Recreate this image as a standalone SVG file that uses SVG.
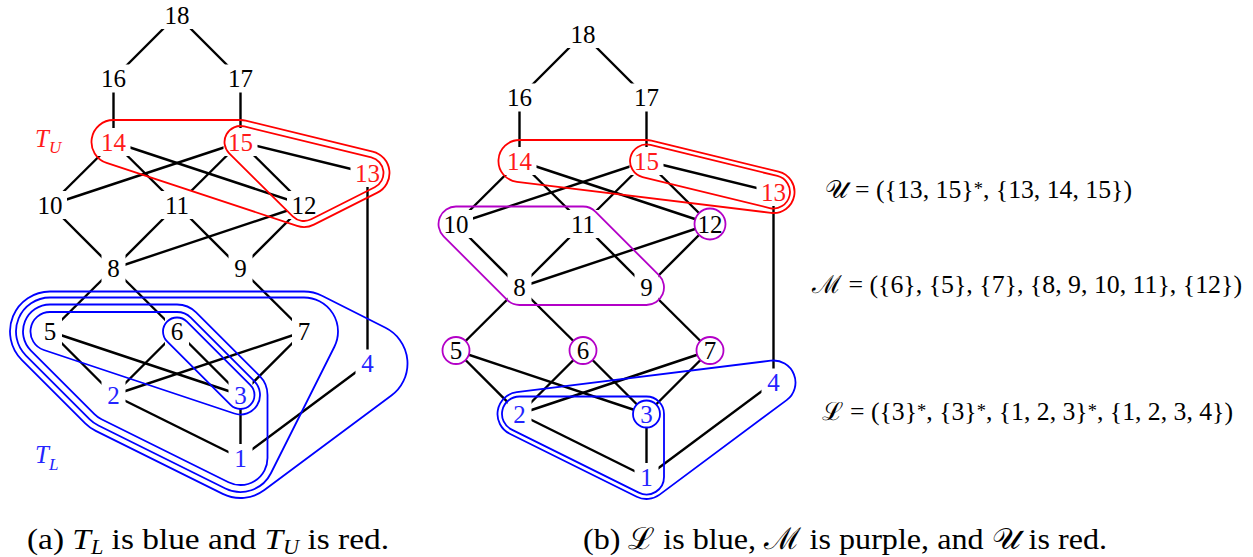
<svg xmlns="http://www.w3.org/2000/svg" width="1253" height="557" viewBox="0 0 1253 557">
<style>
.e{stroke:#000;stroke-width:2.4;fill:none}
.bg{fill:#fff}
.t{font-size:25px;text-anchor:middle;fill:#000}
.r{fill:#ff1a1a}
.b{fill:#2424ff}
.hr{fill:none;stroke:#ff0000;stroke-width:1.8}
.hb{fill:none;stroke:#0000ff;stroke-width:1.8}
.hm{fill:none;stroke:#b300c7;stroke-width:1.8}
.cm{fill:#fff;stroke:#b300c7;stroke-width:1.8}
.cb{fill:#fff;stroke:#0000ff;stroke-width:1.8}
.lab{font-size:25px}
.cap{font-size:30px}
.it{font-style:italic}
</style>
<g id="connectors">
<g id="edges-a">
<line class="e" x1="177" y1="15" x2="113.5" y2="78.5"/>
<line class="e" x1="177" y1="15" x2="240.5" y2="78.5"/>
<line class="e" x1="113.5" y1="78.5" x2="113.5" y2="142"/>
<line class="e" x1="240.5" y1="78.5" x2="240.5" y2="142"/>
<line class="e" x1="113.5" y1="142" x2="50" y2="205"/>
<line class="e" x1="113.5" y1="142" x2="177" y2="205"/>
<line class="e" x1="113.5" y1="142" x2="304" y2="205"/>
<line class="e" x1="240.5" y1="142" x2="50" y2="205"/>
<line class="e" x1="240.5" y1="142" x2="177" y2="205"/>
<line class="e" x1="240.5" y1="142" x2="304" y2="205"/>
<line class="e" x1="240.5" y1="142" x2="367.5" y2="173"/>
<line class="e" x1="367.5" y1="173" x2="367.5" y2="363.5"/>
<line class="e" x1="50" y1="205" x2="113.5" y2="268.5"/>
<line class="e" x1="177" y1="205" x2="113.5" y2="268.5"/>
<line class="e" x1="177" y1="205" x2="240.5" y2="268.5"/>
<line class="e" x1="304" y1="205" x2="113.5" y2="268.5"/>
<line class="e" x1="304" y1="205" x2="240.5" y2="268.5"/>
<line class="e" x1="113.5" y1="268.5" x2="50" y2="331.5"/>
<line class="e" x1="113.5" y1="268.5" x2="177" y2="331.5"/>
<line class="e" x1="240.5" y1="268.5" x2="304" y2="331.5"/>
<line class="e" x1="50" y1="331.5" x2="113.5" y2="395"/>
<line class="e" x1="50" y1="331.5" x2="240.5" y2="395"/>
<line class="e" x1="177" y1="331.5" x2="113.5" y2="395"/>
<line class="e" x1="177" y1="331.5" x2="240.5" y2="395"/>
<line class="e" x1="304" y1="331.5" x2="113.5" y2="395"/>
<line class="e" x1="304" y1="331.5" x2="240.5" y2="395"/>
<line class="e" x1="367.5" y1="363.5" x2="240.5" y2="458"/>
<line class="e" x1="113.5" y1="395" x2="240.5" y2="458"/>
<line class="e" x1="240.5" y1="395" x2="240.5" y2="458"/>
</g>
<g id="edges-b" transform="translate(406,19)">
<line class="e" x1="177" y1="15" x2="113.5" y2="78.5"/>
<line class="e" x1="177" y1="15" x2="240.5" y2="78.5"/>
<line class="e" x1="113.5" y1="78.5" x2="113.5" y2="142"/>
<line class="e" x1="240.5" y1="78.5" x2="240.5" y2="142"/>
<line class="e" x1="113.5" y1="142" x2="50" y2="205"/>
<line class="e" x1="113.5" y1="142" x2="177" y2="205"/>
<line class="e" x1="113.5" y1="142" x2="304" y2="205"/>
<line class="e" x1="240.5" y1="142" x2="50" y2="205"/>
<line class="e" x1="240.5" y1="142" x2="177" y2="205"/>
<line class="e" x1="240.5" y1="142" x2="304" y2="205"/>
<line class="e" x1="240.5" y1="142" x2="367.5" y2="173"/>
<line class="e" x1="367.5" y1="173" x2="367.5" y2="363.5"/>
<line class="e" x1="50" y1="205" x2="113.5" y2="268.5"/>
<line class="e" x1="177" y1="205" x2="113.5" y2="268.5"/>
<line class="e" x1="177" y1="205" x2="240.5" y2="268.5"/>
<line class="e" x1="304" y1="205" x2="113.5" y2="268.5"/>
<line class="e" x1="304" y1="205" x2="240.5" y2="268.5"/>
<line class="e" x1="113.5" y1="268.5" x2="50" y2="331.5"/>
<line class="e" x1="113.5" y1="268.5" x2="177" y2="331.5"/>
<line class="e" x1="240.5" y1="268.5" x2="304" y2="331.5"/>
<line class="e" x1="50" y1="331.5" x2="113.5" y2="395"/>
<line class="e" x1="50" y1="331.5" x2="240.5" y2="395"/>
<line class="e" x1="177" y1="331.5" x2="113.5" y2="395"/>
<line class="e" x1="177" y1="331.5" x2="240.5" y2="395"/>
<line class="e" x1="304" y1="331.5" x2="113.5" y2="395"/>
<line class="e" x1="304" y1="331.5" x2="240.5" y2="395"/>
<line class="e" x1="367.5" y1="363.5" x2="240.5" y2="458"/>
<line class="e" x1="113.5" y1="395" x2="240.5" y2="458"/>
<line class="e" x1="240.5" y1="395" x2="240.5" y2="458"/>
</g>
</g>
<g id="nodes-a" font-family="'Liberation Serif', 'Times New Roman', 'DejaVu Serif', serif">
<g id="a-n18"><rect class="bg" x="160" y="1" width="34" height="28"/><text class="t" x="177" y="23.5">18</text></g>
<g id="a-n16"><rect class="bg" x="96.5" y="64.5" width="34" height="28"/><text class="t" x="113.5" y="87">16</text></g>
<g id="a-n17"><rect class="bg" x="223.5" y="64.5" width="34" height="28"/><text class="t" x="240.5" y="87">17</text></g>
<g id="a-n14"><rect class="bg" x="96.5" y="128" width="34" height="28"/><text class="t r" x="113.5" y="150.5">14</text></g>
<g id="a-n15"><rect class="bg" x="223.5" y="128" width="34" height="28"/><text class="t r" x="240.5" y="150.5">15</text></g>
<g id="a-n13"><rect class="bg" x="350.5" y="159" width="34" height="28"/><text class="t r" x="367.5" y="181.5">13</text></g>
<g id="a-n10"><rect class="bg" x="33" y="191" width="34" height="28"/><text class="t" x="50" y="213.5">10</text></g>
<g id="a-n11"><rect class="bg" x="160" y="191" width="34" height="28"/><text class="t" x="177" y="213.5">11</text></g>
<g id="a-n12"><rect class="bg" x="287" y="191" width="34" height="28"/><text class="t" x="304" y="213.5">12</text></g>
<g id="a-n8"><rect class="bg" x="101.5" y="254.5" width="24" height="28"/><text class="t" x="113.5" y="277">8</text></g>
<g id="a-n9"><rect class="bg" x="228.5" y="254.5" width="24" height="28"/><text class="t" x="240.5" y="277">9</text></g>
<g id="a-n5"><rect class="bg" x="38" y="317.5" width="24" height="28"/><text class="t" x="50" y="340">5</text></g>
<g id="a-n6"><rect class="bg" x="165" y="317.5" width="24" height="28"/><text class="t" x="177" y="340">6</text></g>
<g id="a-n7"><rect class="bg" x="292" y="317.5" width="24" height="28"/><text class="t" x="304" y="340">7</text></g>
<g id="a-n4"><rect class="bg" x="355.5" y="349.5" width="24" height="28"/><text class="t b" x="367.5" y="372">4</text></g>
<g id="a-n2"><rect class="bg" x="101.5" y="381" width="24" height="28"/><text class="t b" x="113.5" y="403.5">2</text></g>
<g id="a-n3"><rect class="bg" x="228.5" y="381" width="24" height="28"/><text class="t b" x="240.5" y="403.5">3</text></g>
<g id="a-n1"><rect class="bg" x="228.5" y="444" width="24" height="28"/><text class="t b" x="240.5" y="466.5">1</text></g>
</g>
<g id="nodes-b" transform="translate(406,19)" font-family="'Liberation Serif', 'Times New Roman', 'DejaVu Serif', serif">
<g id="b-n18"><rect class="bg" x="160" y="1" width="34" height="28"/><text class="t" x="177" y="23.5">18</text></g>
<g id="b-n16"><rect class="bg" x="96.5" y="64.5" width="34" height="28"/><text class="t" x="113.5" y="87">16</text></g>
<g id="b-n17"><rect class="bg" x="223.5" y="64.5" width="34" height="28"/><text class="t" x="240.5" y="87">17</text></g>
<g id="b-n14"><rect class="bg" x="96.5" y="128" width="34" height="28"/><text class="t r" x="113.5" y="150.5">14</text></g>
<g id="b-n15"><rect class="bg" x="223.5" y="128" width="34" height="28"/><text class="t r" x="240.5" y="150.5">15</text></g>
<g id="b-n13"><rect class="bg" x="350.5" y="159" width="34" height="28"/><text class="t r" x="367.5" y="181.5">13</text></g>
<g id="b-n10"><rect class="bg" x="33" y="191" width="34" height="28"/><text class="t" x="50" y="213.5">10</text></g>
<g id="b-n11"><rect class="bg" x="160" y="191" width="34" height="28"/><text class="t" x="177" y="213.5">11</text></g>
<g id="b-n12"><circle class="cm" cx="304" cy="205" r="15.5"/><text class="t" x="304" y="213.5">12</text></g>
<g id="b-n8"><rect class="bg" x="101.5" y="254.5" width="24" height="28"/><text class="t" x="113.5" y="277">8</text></g>
<g id="b-n9"><rect class="bg" x="228.5" y="254.5" width="24" height="28"/><text class="t" x="240.5" y="277">9</text></g>
<g id="b-n5"><circle class="cm" cx="50" cy="331.5" r="13.5"/><text class="t" x="50" y="340">5</text></g>
<g id="b-n6"><circle class="cm" cx="177" cy="331.5" r="13.5"/><text class="t" x="177" y="340">6</text></g>
<g id="b-n7"><circle class="cm" cx="304" cy="331.5" r="13.5"/><text class="t" x="304" y="340">7</text></g>
<g id="b-n4"><rect class="bg" x="355.5" y="349.5" width="24" height="28"/><text class="t b" x="367.5" y="372">4</text></g>
<g id="b-n2"><rect class="bg" x="101.5" y="381" width="24" height="28"/><text class="t b" x="113.5" y="403.5">2</text></g>
<g id="b-n3"><circle class="cb" cx="240.5" cy="395" r="13.5"/><text class="t b" x="240.5" y="403.5">3</text></g>
<g id="b-n1"><rect class="bg" x="228.5" y="444" width="24" height="28"/><text class="t b" x="240.5" y="466.5">1</text></g>
</g>
<g id="hulls-a">
<path id="TU-outer" class="hr" d="M113.5,120 L240.5,120 A22,22 0 0 1 245.72,120.63 L372.72,151.63 A22,22 0 0 1 377.4,192.65 L313.9,224.65 A22,22 0 0 1 297.09,225.89 L106.59,162.89 A22,22 0 0 1 113.5,120 Z"/>
<path id="TU-inner" class="hr" d="M244.29,126.46 L371.29,157.46 A16,16 0 0 1 374.7,187.29 L311.2,219.29 A16,16 0 0 1 292.73,216.36 L229.23,153.36 A16,16 0 0 1 244.29,126.46 Z"/>
<path id="TL-d" class="hb" d="M50,291.5 L304,291.5 A40,40 0 0 1 322,295.78 L385.5,327.78 A40,40 0 0 1 391.38,395.59 L264.38,490.09 A40,40 0 0 1 222.73,493.83 L95.73,430.83 A40,40 0 0 1 85.22,423.28 L21.72,359.78 A40,40 0 0 1 50,291.5 Z"/>
<path id="TL-c" class="hb" d="M50,297.5 L304,297.5 A34,34 0 0 1 334.39,346.75 L270.89,473.25 A34,34 0 0 1 225.39,488.46 L98.39,425.46 A34,34 0 0 1 89.46,419.04 L25.96,355.54 A34,34 0 0 1 50,297.5 Z"/>
<path id="TL-b" class="hb" d="M50,304.5 L177,304.5 A27,27 0 0 1 196.09,312.41 L259.59,375.91 A27,27 0 0 1 267.5,395 L267.5,458 A27,27 0 0 1 228.5,482.19 L101.5,419.19 A27,27 0 0 1 94.41,414.09 L30.91,350.59 A27,27 0 0 1 50,304.5 Z"/>
<path id="TL-a" class="hb" d="M50,312 L177,312 A19.5,19.5 0 0 1 190.79,317.71 L254.29,381.21 A19.5,19.5 0 0 1 234.33,413.5 L43.83,350 A19.5,19.5 0 0 1 50,312 Z"/>
<path id="TL-cap" class="hb" d="M186.9,321.6 L250.4,385.1 A14,14 0 0 1 230.6,404.9 L167.1,341.4 A14,14 0 0 1 186.9,321.6 Z"/>
<g font-family="'Liberation Serif', 'Times New Roman', 'DejaVu Serif', serif" font-style="italic" font-size="25">
<text x="35" y="147" fill="#ff1a1a">T<tspan font-size="17" dy="6">U</tspan></text>
<text x="35" y="463" fill="#2424ff">T<tspan font-size="17" dy="7">L</tspan></text>
</g>
</g>
<g id="hulls-b" transform="translate(406,19)">
<path id="U-outer" class="hr" d="M113.5,121 L240.5,121 A21,21 0 0 1 245.48,121.6 L372.48,152.6 A21,21 0 0 1 364.96,193.85 L110.96,162.85 A21,21 0 0 1 113.5,121 Z"/>
<path id="U-inner" class="hr" d="M244.41,125.97 L371.41,156.97 A16.5,16.5 0 0 1 363.59,189.03 L236.59,158.03 A16.5,16.5 0 0 1 244.41,125.97 Z"/>
<path id="M-hull" class="hm" d="M50,187.5 L177,187.5 A17.5,17.5 0 0 1 189.37,192.63 L252.87,256.13 A17.5,17.5 0 0 1 240.5,286 L113.5,286 A17.5,17.5 0 0 1 101.13,280.87 L37.63,217.37 A17.5,17.5 0 0 1 50,187.5 Z"/>
<path id="L-outer" class="hb" d="M110.79,373.17 L364.79,341.67 A22,22 0 0 1 380.63,381.15 L253.63,475.65 A22,22 0 0 1 230.72,477.71 L103.72,414.71 A22,22 0 0 1 110.79,373.17 Z"/>
<path id="L-inner" class="hb" d="M113.5,377.5 L240.5,377.5 A17.5,17.5 0 0 1 258,395 L258,458 A17.5,17.5 0 0 1 232.72,473.68 L105.72,410.68 A17.5,17.5 0 0 1 113.5,377.5 Z"/>
</g>
<g id="formulas" font-family="'Liberation Serif', 'Times New Roman', 'DejaVu Serif', serif" fill="#000">
<text class="lab" x="825" y="198" textLength="307" lengthAdjust="spacingAndGlyphs">𝒰 = ({13, 15}<tspan font-size="18" dy="-3">*</tspan><tspan dy="3">, {13, 14, 15})</tspan></text>
<text class="lab" x="812" y="293" textLength="430" lengthAdjust="spacingAndGlyphs">ℳ = ({6}, {5}, {7}, {8, 9, 10, 11}, {12})</text>
<text class="lab" x="822" y="420" textLength="411" lengthAdjust="spacingAndGlyphs">ℒ = ({3}<tspan font-size="18" dy="-3">*</tspan><tspan dy="3">, {3}</tspan><tspan font-size="18" dy="-3">*</tspan><tspan dy="3">, {1, 2, 3}</tspan><tspan font-size="18" dy="-3">*</tspan><tspan dy="3">, {1, 2, 3, 4})</tspan></text>
</g>
<g id="captions" font-family="'Liberation Serif', 'Times New Roman', 'DejaVu Serif', serif" fill="#000">
<text class="cap" x="27" y="549" textLength="362" lengthAdjust="spacingAndGlyphs">(a) <tspan class="it">T</tspan><tspan class="it" font-size="20" dy="5">L</tspan><tspan dy="-5"> is blue and </tspan><tspan class="it">T</tspan><tspan class="it" font-size="20" dy="5">U</tspan><tspan dy="-5"> is red.</tspan></text>
<text class="cap" x="583" y="549" textLength="524" lengthAdjust="spacingAndGlyphs">(b) ℒ is blue, ℳ is purple, and 𝒰 is red.</text>
</g>
</svg>
